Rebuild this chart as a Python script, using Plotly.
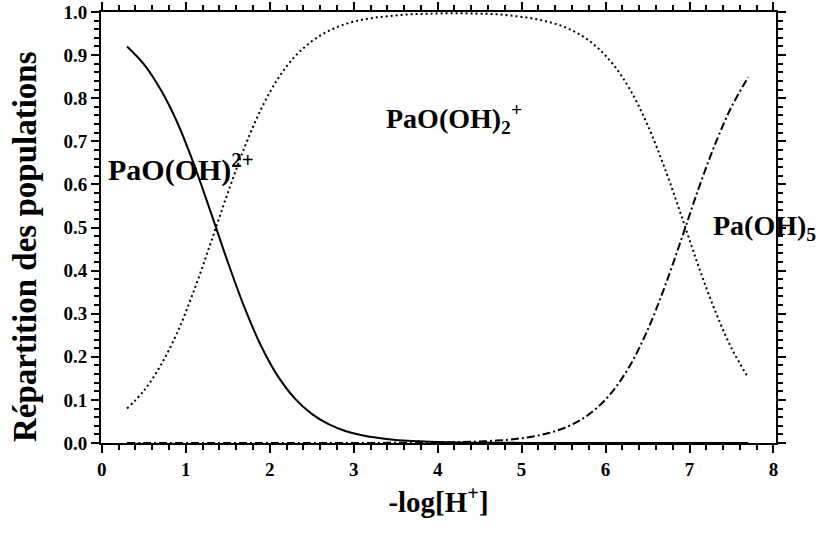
import plotly.graph_objects as go

x_vals = [0.3, 0.5, 0.7, 0.9, 1.1, 1.3, 1.5, 1.7, 1.9, 2.1, 2.3, 2.5, 2.7, 2.9,
          3.1, 3.3, 3.5, 3.7, 3.9, 4.1, 4.3, 4.5, 4.7, 4.9, 5.1, 5.3, 5.5, 5.7,
          5.9, 6.1, 6.3, 6.5, 6.7, 6.9, 7.1, 7.3, 7.5, 7.7]

pao_oh_2plus = [0.920, 0.879, 0.820, 0.743, 0.645, 0.534, 0.420, 0.314, 0.224, 0.154,
                0.103, 0.0676, 0.0437, 0.0280, 0.0179, 0.0114, 0.0072, 0.0046, 0.0029,
                0.0018, 0.0011, 0.0007, 0.0005, 0.0003, 0.0002, 0.0001, 0.0001, 0.0001,
                0.0, 0.0, 0.0, 0.0, 0.0, 0.0, 0.0, 0.0, 0.0, 0.0]

pao_oh2_plus = [0.080, 0.121, 0.180, 0.257, 0.355, 0.466, 0.580, 0.686, 0.776, 0.846,
                0.897, 0.932, 0.956, 0.972, 0.982, 0.988, 0.992, 0.995, 0.996, 0.997,
                0.997, 0.996, 0.995, 0.991, 0.986, 0.978, 0.966, 0.947, 0.918, 0.876,
                0.817, 0.738, 0.640, 0.529, 0.414, 0.309, 0.220, 0.151]

pa_oh5 = [0.0, 0.0, 0.0, 0.0, 0.0, 0.0, 0.0, 0.0, 0.0, 0.0,
          0.0, 0.0, 0.0, 0.0, 0.0001, 0.0002, 0.0004, 0.0006, 0.0009, 0.0014,
          0.0022, 0.0035, 0.0056, 0.0088, 0.0139, 0.0219, 0.0343, 0.0533, 0.0818, 0.124,
          0.183, 0.262, 0.360, 0.471, 0.586, 0.691, 0.780, 0.849]

x_tickvals = [0, 1, 2, 3, 4, 5, 6, 7, 8]
y_tickvals = [0.0, 0.1, 0.2, 0.3, 0.4, 0.5, 0.6, 0.7, 0.8, 0.9, 1.0]

FONT = "Liberation Serif"

fig = go.Figure()
fig.add_trace(go.Scatter(x=x_vals, y=pao_oh_2plus, mode="lines", line_shape="spline",
                         line=dict(color="black", width=2)))
fig.add_trace(go.Scatter(x=x_vals, y=pao_oh2_plus, mode="lines", line_shape="spline",
                         line=dict(color="black", width=2, dash="2px,3px")))
fig.add_trace(go.Scatter(x=x_vals, y=pa_oh5, mode="lines", line_shape="spline",
                         line=dict(color="black", width=2, dash="8px,3px,2px,3px")))

axis_common = dict(
    showline=True, linecolor="black", linewidth=2, mirror="allticks",
    ticks="outside", ticklen=8, tickwidth=2, tickcolor="black",
    showgrid=False, zeroline=False, automargin=False,
    tickfont=dict(family=FONT, size=19, color="black", weight="bold"),
)

fig.update_xaxes(
    range=[-0.01, 8.03], tickvals=x_tickvals,
    minor=dict(ticks="outside", dtick=0.2, tick0=0, ticklen=5, tickwidth=2, tickcolor="black"),
    title=dict(text="-log[H<sup>+</sup>]", font=dict(family=FONT, size=29, color="black", weight="bold"),
               standoff=13),
    **axis_common)
fig.update_yaxes(
    range=[0, 1.0], tickvals=y_tickvals, tickformat=".1f",
    minor=dict(ticks="outside", dtick=0.02, tick0=0, ticklen=5, tickwidth=2, tickcolor="black"),
    **axis_common)

# y axis title placed as a rotated annotation (it sits slightly below the axis centre)
fig.add_annotation(x=-0.1126, y=0.457, xref="paper", yref="paper",
                   text="Répartition des populations", textangle=-90,
                   showarrow=False, xanchor="center", yanchor="middle",
                   font=dict(family=FONT, size=33, color="black", weight="bold"))

fig.add_annotation(x=0.05, y=0.640, xref="x", yref="y", text="PaO(OH)<sup>2+</sup>",
                   showarrow=False, xanchor="left", yanchor="middle",
                   font=dict(family=FONT, size=30, color="black", weight="bold"))
fig.add_annotation(x=3.365, y=0.752, xref="x", yref="y", text="PaO(OH)<sub>2</sub><sup>+</sup>",
                   showarrow=False, xanchor="left", yanchor="middle",
                   font=dict(family=FONT, size=28, color="black", weight="bold"))
fig.add_annotation(x=7.26, y=0.50, xref="x", yref="y", text="Pa(OH)<sub>5</sub>",
                   showarrow=False, xanchor="left", yanchor="middle",
                   font=dict(family=FONT, size=28, color="black", weight="bold"))

fig.update_layout(
    width=820, height=537,
    margin=dict(l=101, r=44, t=12, b=94),
    paper_bgcolor="white", plot_bgcolor="white",
    showlegend=False,
)

fig.write_html("out.html", config={"displayModeBar": False},
               post_script="document.body.style.margin='0';")
